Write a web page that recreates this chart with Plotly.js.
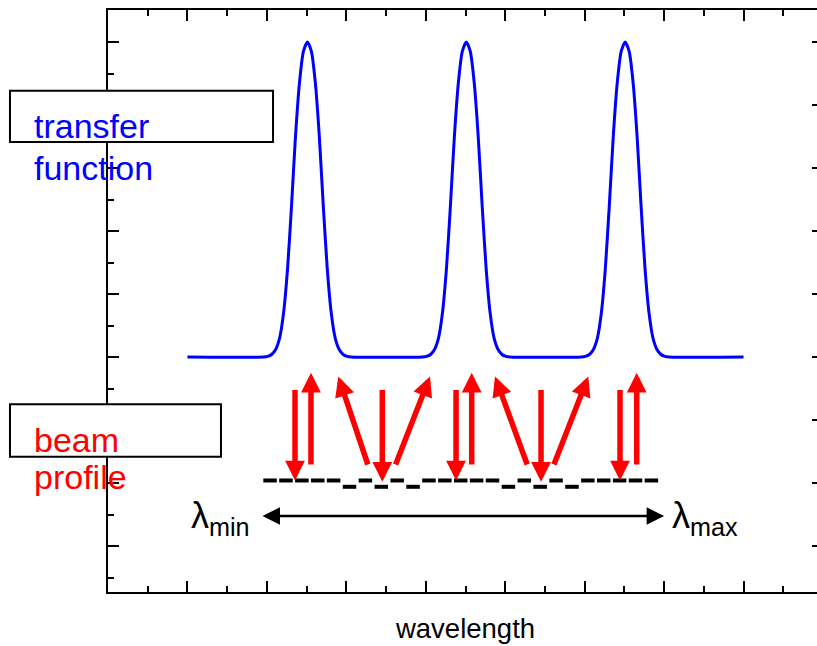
<!DOCTYPE html>
<html>
<head>
<meta charset="utf-8">
<script src="https://cdn.plot.ly/plotly-3.0.1.min.js"></script>
<style>
  html, body { margin: 0; padding: 0; overflow: hidden; background: #ffffff; }
  #chart { width: 823px; height: 646px; }
</style>
</head>
<body>
<div id="chart"></div>
<script>
// ---- transfer function ----
const tfX = [1.00,
  1.96, 2.01, 2.06, 2.11, 2.16, 2.21, 2.26, 2.31, 2.36, 2.41, 2.46, 2.51, 2.56, 2.61, 2.66, 2.71, 2.76, 2.81, 2.86, 2.91, 2.96, 3.01, 3.06,
  3.96, 4.01, 4.06, 4.11, 4.16, 4.21, 4.26, 4.31, 4.36, 4.41, 4.46, 4.51, 4.56, 4.61, 4.66, 4.71, 4.76, 4.81, 4.86, 4.91, 4.96, 5.01, 5.06,
  5.96, 6.01, 6.06, 6.11, 6.16, 6.21, 6.26, 6.31, 6.36, 6.41, 6.46, 6.51, 6.56, 6.61, 6.66, 6.71, 6.76, 6.81, 6.86, 6.91, 6.96, 7.01, 7.06,
  8.00];
const tfY = [3.00,
  3.00, 3.01, 3.04, 3.12, 3.30, 3.70, 4.40, 5.40, 6.50, 7.35, 7.85, 8.00, 7.85, 7.35, 6.50, 5.40, 4.40, 3.70, 3.30, 3.12, 3.04, 3.01, 3.00,
  3.00, 3.01, 3.04, 3.12, 3.30, 3.70, 4.40, 5.40, 6.50, 7.35, 7.85, 8.00, 7.85, 7.35, 6.50, 5.40, 4.40, 3.70, 3.30, 3.12, 3.04, 3.01, 3.00,
  3.00, 3.01, 3.04, 3.12, 3.30, 3.70, 4.40, 5.40, 6.50, 7.35, 7.85, 8.00, 7.85, 7.35, 6.50, 5.40, 4.40, 3.70, 3.30, 3.12, 3.04, 3.01, 3.00,
  3.00];

// ---- beam profile bins (centres and levels) ----
const beamX = [2.04, 2.24, 2.44, 2.64, 2.84, 3.04, 3.24, 3.44, 3.64, 3.84, 4.04, 4.24, 4.44,
               4.64, 4.84, 5.04, 5.24, 5.44, 5.64, 5.84, 6.04, 6.24, 6.44, 6.64, 6.84];
const beamY = [1.04, 1.04, 1.04, 1.04, 1.04, 0.94, 1.04, 0.94, 1.04, 0.94, 1.04, 1.04, 1.04,
               1.04, 1.04, 0.94, 1.04, 0.94, 1.04, 0.94, 1.04, 1.04, 1.04, 1.04, 1.04];

// ---- red arrows: tail -> tip ----
const arrowTailX = [2.354, 2.555, 3.277, 3.453, 3.613, 4.381, 4.578, 5.283, 5.451, 5.606, 6.445, 6.655];
const arrowTailY = [2.50, 1.27, 1.27, 2.50, 1.27, 2.50, 1.27, 1.27, 2.50, 1.27, 2.50, 1.27];
const arrowTipX  = [2.354, 2.555, 2.899, 3.453, 4.053, 4.381, 4.578, 4.872, 5.451, 6.046, 6.445, 6.655];
const arrowTipY  = [1.04, 2.75, 2.69, 1.02, 2.69, 1.04, 2.75, 2.69, 1.02, 2.69, 1.04, 2.75];

// ---- wavelength span ----
const spanX = [1.926, 7.000];
const spanY = [0.476, 0.476];

// ---- labels ----
const labelTexts = ['transfer', 'function', 'beam', 'profile'];
const labelColors = ['#0000ff', '#0000ff', '#ff0000', '#ff0000'];
const lambdaTexts = ['λ<sub>min</sub>', 'λ<sub>max</sub>'];
const xTitle = 'wavelength';

const FONT = 'Liberation Sans, Arial, Helvetica, sans-serif';

// beam profile dashes
const halfDash = 0.085;
const bx = [], by = [];
beamX.forEach((c, i) => { bx.push(c - halfDash, c + halfDash, null); by.push(beamY[i], beamY[i], null); });

const traces = [
  { x: tfX, y: tfY, type: 'scatter', mode: 'lines', name: 'transfer function',
    line: { color: '#0000ff', width: 3, shape: 'spline', smoothing: 0.6 }, hoverinfo: 'skip' },
  { x: bx, y: by, type: 'scatter', mode: 'lines', name: 'beam profile',
    line: { color: '#000000', width: 4 }, connectgaps: false, hoverinfo: 'skip' }
];

const annotations = [];
arrowTipX.forEach((tx, i) => {
  annotations.push({
    x: tx, y: arrowTipY[i], xref: 'x', yref: 'y',
    ax: arrowTailX[i], ay: arrowTailY[i], axref: 'x', ayref: 'y',
    text: '', showarrow: true, arrowhead: 2, arrowsize: 0.72, arrowwidth: 5.5,
    arrowcolor: '#ff0000', standoff: 0, startstandoff: 0
  });
});
annotations.push({
  x: spanX[1], y: spanY[1], xref: 'x', yref: 'y',
  ax: spanX[0], ay: spanY[0], axref: 'x', ayref: 'y',
  text: '', showarrow: true, arrowside: 'end+start', arrowhead: 2, arrowsize: 1.4,
  arrowwidth: 2.5, arrowcolor: '#000000', standoff: 0, startstandoff: 0
});
// word labels (paper coords)
const labelPos = [[-0.1063, 0.801], [-0.1063, 0.7278], [-0.1063, 0.2615], [-0.1063, 0.1975]];
labelTexts.forEach((t, i) => {
  annotations.push({
    x: labelPos[i][0], y: labelPos[i][1], xref: 'paper', yref: 'paper',
    xanchor: 'left', yanchor: 'middle', text: t, showarrow: false,
    font: { family: FONT, size: 34, color: labelColors[i] }
  });
});
// lambda labels
const lambdaPos = [[1.015, 0.45], [7.070, 0.45]];
lambdaTexts.forEach((t, i) => {
  annotations.push({
    x: lambdaPos[i][0], y: lambdaPos[i][1], xref: 'x', yref: 'y',
    xanchor: 'left', yanchor: 'middle', text: t, showarrow: false,
    font: { family: FONT, size: 36, color: '#000000' }
  });
});

const shapes = [
  { type: 'rect', xref: 'paper', yref: 'paper', x0: -0.1371, x1: 0.2308, y0: 0.7732, y1: 0.8613,
    line: { color: '#000000', width: 2 }, fillcolor: '#ffffff', layer: 'above' },
  { type: 'rect', xref: 'paper', yref: 'paper', x0: -0.1371, x1: 0.1580, y0: 0.2325, y1: 0.3225,
    line: { color: '#000000', width: 2 }, fillcolor: '#ffffff', layer: 'above' }
];

const axisCommon = {
  showline: true, linecolor: '#000000', linewidth: 2, mirror: 'ticks',
  ticks: 'inside', ticklen: 11, tickwidth: 2, tickcolor: '#000000',
  showticklabels: false, showgrid: false, zeroline: false, fixedrange: true
};

const layout = {
  width: 823, height: 646,
  margin: { l: 108, r: 0, t: 10, b: 54, pad: 0 },
  paper_bgcolor: '#ffffff', plot_bgcolor: '#ffffff',
  showlegend: false,
  font: { family: FONT, color: '#000000' },
  xaxis: Object.assign({}, axisCommon, {
    range: [0, 9], tick0: 0, dtick: 1,
    minor: { ticks: 'inside', ticklen: 6, tickwidth: 2, tickcolor: '#000000', dtick: 0.5, tick0: 0, showgrid: false },
    title: { text: xTitle, font: { family: FONT, size: 27.5, color: '#000000' }, standoff: 26 }
  }),
  yaxis: Object.assign({}, axisCommon, {
    range: [-0.730, 8.508], tick0: 0, dtick: 1,
    minor: { ticks: 'inside', ticklen: 6, tickwidth: 2, tickcolor: '#000000', dtick: 0.5, tick0: 0, showgrid: false }
  }),
  annotations: annotations,
  shapes: shapes
};

Plotly.newPlot('chart', traces, layout, { staticPlot: true, displayModeBar: false });
</script>
</body>
</html>
